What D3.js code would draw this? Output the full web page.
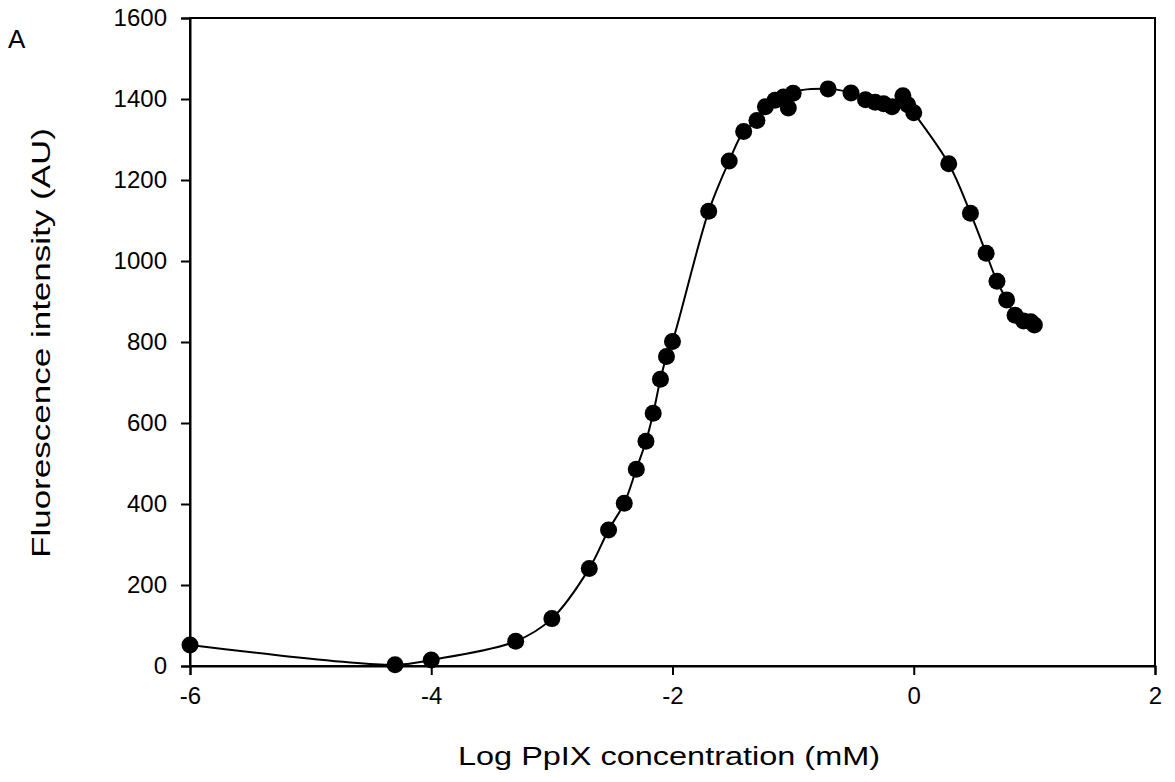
<!DOCTYPE html>
<html>
<head>
<meta charset="utf-8">
<script src="https://cdn.jsdelivr.net/npm/d3@7"></script>
<style>
  body { margin: 0; background: #fff; }
  text { font-family: "Liberation Sans", Arial, sans-serif; fill: #000; }
</style>
</head>
<body>
<script>
// data
const logConc = [-6, -4.3, -4.0, -3.3, -3.0, -2.69, -2.53, -2.40, -2.30, -2.22, -2.16, -2.10, -2.05, -2.0,
  -1.70, -1.53, -1.41, -1.30, -1.23, -1.15, -1.08, -1.04, -1.0,
  -0.71, -0.52, -0.40, -0.32, -0.25, -0.18, -0.09, -0.05, 0.0,
  0.29, 0.47, 0.60, 0.69, 0.77, 0.84, 0.91, 0.97, 1.0];
const intensity = [52, 3, 15, 61, 117, 241, 336, 402, 486, 555, 624, 708, 764, 801,
  1123, 1247, 1320, 1347, 1381, 1397, 1405, 1378, 1414,
  1425, 1415, 1398, 1392, 1388, 1381, 1408, 1386, 1366,
  1240, 1118, 1019, 950, 904, 866, 852, 850, 842];
const xTicks = [-6, -4, -2, 0, 2];
const yTicks = [0, 200, 400, 600, 800, 1000, 1200, 1400, 1600];

const width = 1175, height = 782;
const plotLeft = 190, plotRight = 1155, plotTop = 18, plotBottom = 666;

const points = logConc.map((x, i) => ({x: x, y: intensity[i]}));

const svg = d3.select("body").append("svg")
  .attr("width", width)
  .attr("height", height);

const x = d3.scaleLinear().domain([-6, 2]).range([plotLeft, plotRight]);
const y = d3.scaleLinear().domain([0, 1600]).range([plotBottom, plotTop]);

// frame (top and right sides)
svg.append("rect")
  .attr("x", plotLeft).attr("y", plotTop)
  .attr("width", plotRight - plotLeft).attr("height", plotBottom - plotTop)
  .attr("fill", "none").attr("stroke", "#000").attr("stroke-width", 2);

// plain labels: no thousands comma, ascii minus
const fmt = d => String(d);

// axes
const xAxis = svg.append("g")
  .attr("transform", `translate(0,${plotBottom})`)
  .call(d3.axisBottom(x).tickValues(xTicks).tickFormat(fmt).tickSize(9).tickPadding(12));
const yAxis = svg.append("g")
  .attr("transform", `translate(${plotLeft},0)`)
  .call(d3.axisLeft(y).tickValues(yTicks).tickFormat(fmt).tickSize(9).tickPadding(14));

[xAxis, yAxis].forEach(g => {
  g.select(".domain").attr("stroke-width", 2);
  g.selectAll(".tick line").attr("stroke-width", 2);
  g.selectAll(".tick text").style("font-size", "24px")
    .style("font-family", "'Liberation Sans', Arial, sans-serif");
});

// line through the points
const line = d3.line()
  .x(d => x(d.x))
  .y(d => y(d.y))
  .curve(d3.curveCatmullRom.alpha(0.5));

svg.append("path")
  .datum(points)
  .attr("d", line)
  .attr("fill", "none")
  .attr("stroke", "#000")
  .attr("stroke-width", 2);

svg.selectAll("circle.pt")
  .data(points)
  .enter()
  .append("circle")
  .attr("class", "pt")
  .attr("cx", d => x(d.x))
  .attr("cy", d => y(d.y))
  .attr("r", 8.5)
  .attr("fill", "#000");

// titles
svg.append("text")
  .attr("x", 458)
  .attr("y", 765)
  .attr("textLength", 422)
  .attr("lengthAdjust", "spacingAndGlyphs")
  .style("font-size", "26px")
  .text("Log PpIX concentration (mM)");

svg.append("text")
  .attr("transform", `translate(50,558) rotate(-90)`)
  .attr("textLength", 430)
  .attr("lengthAdjust", "spacingAndGlyphs")
  .style("font-size", "26px")
  .text("Fluorescence intensity (AU)");

svg.append("text")
  .attr("x", 8)
  .attr("y", 48)
  .style("font-size", "26px")
  .text("A");
</script>
</body>
</html>
